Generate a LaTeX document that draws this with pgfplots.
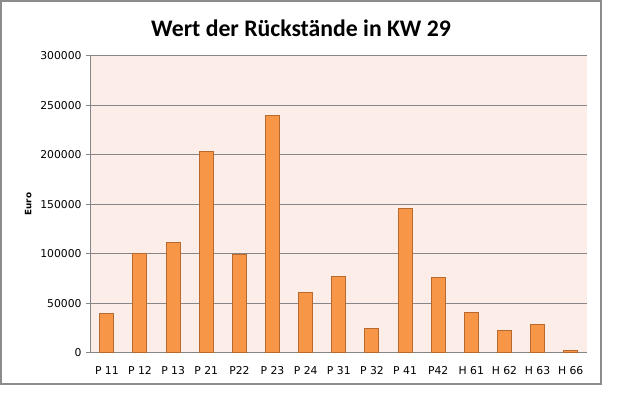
\documentclass[border=0pt]{standalone}
\usepackage{pgfplots}
\pgfplotsset{compat=1.18}
\usepackage{fontspec}
\setmainfont{DejaVu Sans}
\newfontfamily\titlefont{Carlito}
\definecolor{barfill}{HTML}{F79646}
\definecolor{barline}{HTML}{B8692E}
\definecolor{bgcol}{HTML}{FCEDE8}
\definecolor{gridgray}{HTML}{868686}
\definecolor{framegray}{HTML}{8C8C8C}
\begin{document}
\begin{tikzpicture}[x=0.75pt,y=0.75pt]
\useasboundingbox (0,0) rectangle (626,399);
\draw[framegray, line width=0.9pt] (1,15) rectangle (601,398);
\node[font=\titlefont\bfseries\fontsize{17.8}{20}\selectfont] at (301,371) {Wert der Rückstände in KW 29};
\begin{axis}[
  at={(67.725pt,34.875pt)}, anchor=south west,
  scale only axis, width=372.75pt, height=222.4pt,
  xmin=-0.5, xmax=14.5, ymin=0, ymax=300000,
  ytick={0,50000,100000,150000,200000,250000,300000},
  xtick={0,1,2,3,4,5,6,7,8,9,10,11,12,13,14},
  xticklabels={P 11,P 12,P 13,P 21,P22,P 23,P 24,P 31,P 32,P 41,P42,H 61,H 62,H 63,H 66},
  axis lines=left,
  axis line style={-, gridgray, line width=0.75pt},
  ymajorgrids, grid style={gridgray, line width=0.75pt},
  axis background/.style={fill=bgcol},
  tick align=outside,
  major tick length=3pt,
  ytick style={gridgray, line width=0.75pt},
  xtick style={draw=none},
  scaled y ticks=false,
  /pgf/number format/.cd, fixed, 1000 sep={}, assume math mode=true,
  /pgfplots/.cd,
  tick label style={font=\fontsize{8.1}{9}\selectfont},
  xticklabel style={yshift=-4pt},
  ylabel={Euro},
  ylabel style={font=\bfseries\fontsize{6.6}{8}\selectfont, at={(axis description cs:-0.125,0.5)}, anchor=center, rotate=0},
  ybar, bar width=10.5pt,
]
\addplot[fill=barfill, draw=barline, line width=0.75pt] coordinates {
  (0,39500) (1,100000) (2,111000) (3,203000) (4,99000) (5,239500) (6,60500)
  (7,77000) (8,24000) (9,146000) (10,75500) (11,40200) (12,22000) (13,28300) (14,1900)
};
\end{axis}
\end{tikzpicture}
\end{document}
